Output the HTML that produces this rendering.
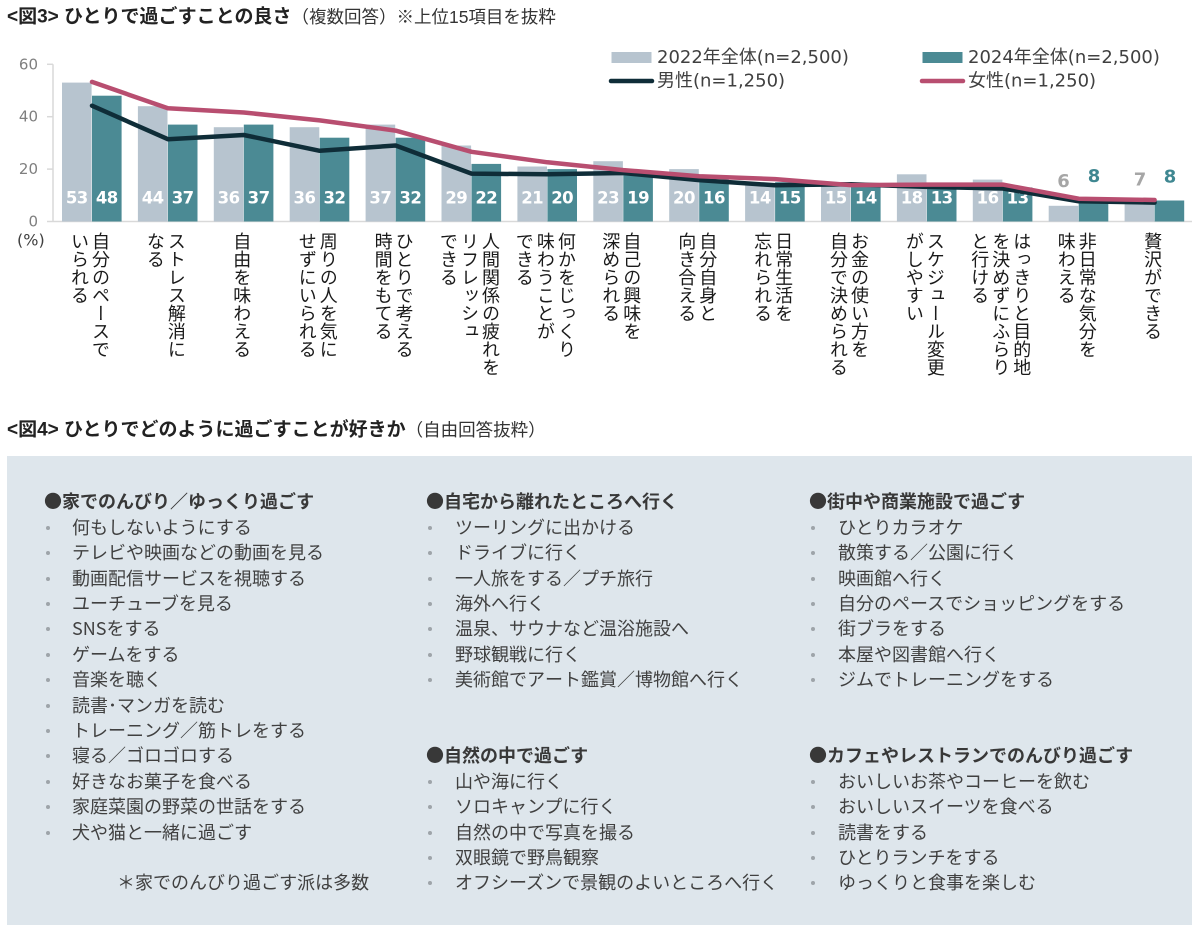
<!DOCTYPE html>
<html><head><meta charset="utf-8">
<style>
html,body{margin:0;padding:0;}
body{width:1200px;height:932px;position:relative;overflow:hidden;background:#fff;font-family:"Liberation Sans","Noto Sans CJK JP",sans-serif;}
svg{position:absolute;left:0;top:0;}
.xl{position:absolute;top:232px;writing-mode:vertical-rl;font-family:"Noto Sans CJK JP",sans-serif;font-size:18px;line-height:21px;color:#1a1a1a;transform:translateX(-50%);white-space:nowrap;}
.col{position:absolute;font-family:"Noto Sans CJK JP",sans-serif;font-size:18px;line-height:25.4px;color:#404040;white-space:nowrap;}
.h{font-weight:bold;color:#383838;margin-left:-2px;}
.it{position:relative;}
.it::before{content:"";position:absolute;left:0;top:11px;width:4px;height:4px;border-radius:50%;background:#9ea4a9;}
.c1 .it{padding-left:26px;}
.c2 .it{padding-left:27px;}
.c3 .it{padding-left:27px;}
.bl{height:25.4px;}
</style></head>
<body>
<svg width="1200" height="932" viewBox="0 0 1200 932" xmlns="http://www.w3.org/2000/svg">
  <!-- Title 1 -->
  <text x="7" y="17" dominant-baseline="central" font-family="Liberation Sans, Noto Sans CJK JP, sans-serif" font-size="19" font-weight="bold" fill="#222">&lt;図3&gt; ひとりで過ごすことの良さ<tspan font-weight="normal" font-size="17.5" fill="#333">（複数回答）※上位15項目を抜粋</tspan></text>

  <!-- Legend -->
  <rect x="611.5" y="52" width="40" height="11" fill="#b7c4cf"/>
  <text x="657" y="57.5" dominant-baseline="central" font-family="DejaVu Sans, Noto Sans CJK JP, sans-serif" font-size="18" fill="#404040">2022年全体(n=2,500)</text>
  <rect x="922.5" y="52" width="40" height="11" fill="#4b8a94"/>
  <text x="968" y="57.5" dominant-baseline="central" font-family="DejaVu Sans, Noto Sans CJK JP, sans-serif" font-size="18" fill="#404040">2024年全体(n=2,500)</text>
  <line x1="611" y1="81" x2="652" y2="81" stroke="#0f2d38" stroke-width="4.5" stroke-linecap="round"/>
  <text x="657" y="81" dominant-baseline="central" font-family="DejaVu Sans, Noto Sans CJK JP, sans-serif" font-size="18" fill="#404040">男性(n=1,250)</text>
  <line x1="922" y1="81" x2="963" y2="81" stroke="#b84e70" stroke-width="4.5" stroke-linecap="round"/>
  <text x="968" y="81" dominant-baseline="central" font-family="DejaVu Sans, Noto Sans CJK JP, sans-serif" font-size="18" fill="#404040">女性(n=1,250)</text>

  <!-- Axis -->
  <line x1="53" y1="64.3" x2="53" y2="221.5" stroke="#d9d9d9" stroke-width="1.5"/>
  <line x1="47" y1="64.3" x2="53" y2="64.3" stroke="#d9d9d9" stroke-width="1.5"/>
  <line x1="47" y1="116.7" x2="53" y2="116.7" stroke="#d9d9d9" stroke-width="1.5"/>
  <line x1="47" y1="169.1" x2="53" y2="169.1" stroke="#d9d9d9" stroke-width="1.5"/>
  <line x1="47" y1="221.5" x2="1192" y2="221.5" stroke="#d9d9d9" stroke-width="1.5"/>
  <g font-family="DejaVu Sans, sans-serif" font-size="15" fill="#7f7f7f" text-anchor="end" dominant-baseline="central">
    <text x="38" y="64.3">60</text>
    <text x="38" y="116.7">40</text>
    <text x="38" y="169.1">20</text>
    <text x="38" y="221.5">0</text>
  </g>
  <text x="17" y="240" dominant-baseline="central" font-family="DejaVu Sans, sans-serif" font-size="16" fill="#404040">(%)</text>

  <!-- Light bars (2022) -->
  <g fill="#b7c4cf">
    <rect x="62" y="82.6" width="29.6" height="138.9"/>
    <rect x="137.9" y="106.2" width="29.6" height="115.3"/>
    <rect x="213.8" y="127.2" width="29.6" height="94.3"/>
    <rect x="289.7" y="127.2" width="29.6" height="94.3"/>
    <rect x="365.6" y="124.6" width="29.6" height="96.9"/>
    <rect x="441.5" y="145.5" width="29.6" height="76"/>
    <rect x="517.4" y="166.5" width="29.6" height="55"/>
    <rect x="593.3" y="161.2" width="29.6" height="60.3"/>
    <rect x="669.2" y="169.1" width="29.6" height="52.4"/>
    <rect x="745.1" y="184.8" width="29.6" height="36.7"/>
    <rect x="821" y="182.2" width="29.6" height="39.3"/>
    <rect x="896.9" y="174.3" width="29.6" height="47.2"/>
    <rect x="972.8" y="179.6" width="29.6" height="41.9"/>
    <rect x="1048.7" y="205.8" width="29.6" height="15.7"/>
    <rect x="1124.6" y="203.2" width="29.6" height="18.3"/>
  </g>
  <!-- Dark bars (2024) -->
  <g fill="#4b8a94">
    <rect x="92" y="95.7" width="29.6" height="125.8"/>
    <rect x="167.9" y="124.6" width="29.6" height="96.9"/>
    <rect x="243.8" y="124.6" width="29.6" height="96.9"/>
    <rect x="319.7" y="137.7" width="29.6" height="83.8"/>
    <rect x="395.6" y="137.7" width="29.6" height="83.8"/>
    <rect x="471.5" y="163.9" width="29.6" height="57.6"/>
    <rect x="547.4" y="169.1" width="29.6" height="52.4"/>
    <rect x="623.3" y="171.7" width="29.6" height="49.8"/>
    <rect x="699.2" y="179.6" width="29.6" height="41.9"/>
    <rect x="775.1" y="182.2" width="29.6" height="39.3"/>
    <rect x="851" y="184.8" width="29.6" height="36.7"/>
    <rect x="926.9" y="187.4" width="29.6" height="34.1"/>
    <rect x="1002.8" y="187.4" width="29.6" height="34.1"/>
    <rect x="1078.7" y="200.5" width="29.6" height="21"/>
    <rect x="1154.6" y="200.5" width="29.6" height="21"/>
  </g>

  <!-- Value labels -->
  <g font-family="DejaVu Sans, sans-serif" font-size="16.5" font-weight="bold" fill="#ffffff" text-anchor="middle" dominant-baseline="central" letter-spacing="-0.5">
    <text x="76.8" y="198">53</text><text x="106.8" y="198">48</text>
    <text x="152.7" y="198">44</text><text x="182.7" y="198">37</text>
    <text x="228.6" y="198">36</text><text x="258.6" y="198">37</text>
    <text x="304.5" y="198">36</text><text x="334.5" y="198">32</text>
    <text x="380.4" y="198">37</text><text x="410.4" y="198">32</text>
    <text x="456.3" y="198">29</text><text x="486.3" y="198">22</text>
    <text x="532.2" y="198">21</text><text x="562.2" y="198">20</text>
    <text x="608.1" y="198">23</text><text x="638.1" y="198">19</text>
    <text x="684" y="198">20</text><text x="714" y="198">16</text>
    <text x="759.9" y="198">14</text><text x="789.9" y="198">15</text>
    <text x="835.8" y="198">15</text><text x="865.8" y="198">14</text>
    <text x="911.7" y="198">18</text><text x="941.7" y="198">13</text>
    <text x="987.6" y="198">16</text><text x="1017.6" y="198">13</text>
  </g>
  <g font-family="DejaVu Sans, sans-serif" font-size="18" font-weight="bold" text-anchor="middle" dominant-baseline="central">
    <text x="1063.5" y="181.5" fill="#a6a6a6">6</text>
    <text x="1094" y="176.5" fill="#3f8791">8</text>
    <text x="1140" y="180" fill="#a6a6a6">7</text>
    <text x="1170" y="177" fill="#3f8791">8</text>
  </g>

  <!-- Lines -->
  <polyline fill="none" stroke="#0f2d38" stroke-width="4.5" stroke-linejoin="round" stroke-linecap="round"
    points="92,105.7 167.9,139.2 243.8,135 319.7,150.8 395.6,145.5 471.5,173.6 547.4,174.3 623.3,173 699.2,180.1 775.1,185.3 851,184.3 926.9,186.9 1002.8,188.5 1078.7,201.3 1154.6,202.6"/>
  <polyline fill="none" stroke="#b84e70" stroke-width="4.5" stroke-linejoin="round" stroke-linecap="round"
    points="92,81.9 167.9,108.3 243.8,112.5 319.7,120.4 395.6,130.6 471.5,151.8 547.4,162.3 623.3,170.1 699.2,176.2 775.1,179.1 851,185.1 926.9,184.6 1002.8,184.6 1078.7,198.7 1154.6,200"/>

  <!-- Title 2 -->
  <text x="7" y="430" dominant-baseline="central" font-family="Liberation Sans, Noto Sans CJK JP, sans-serif" font-size="19" font-weight="bold" fill="#222">&lt;図4&gt; ひとりでどのように過ごすことが好きか<tspan font-weight="normal" font-size="17.5" fill="#333">（自由回答抜粋）</tspan></text>

  <!-- Panel -->
  <rect x="7" y="456" width="1185" height="469" fill="#dee6ec"/>
</svg>

<!-- X labels -->
<div class="xl" style="left:90px">自分のペースで<br>いられる</div>
<div class="xl" style="left:165.9px">ストレス解消に<br>なる</div>
<div class="xl" style="left:241.8px">自由を味わえる</div>
<div class="xl" style="left:317.7px">周りの人を気に<br>せずにいられる</div>
<div class="xl" style="left:393.6px">ひとりで考える<br>時間をもてる</div>
<div class="xl" style="left:469.5px">人間関係の疲れを<br>リフレッシュ<br>できる</div>
<div class="xl" style="left:545.4px">何かをじっくり<br>味わうことが<br>できる</div>
<div class="xl" style="left:621.3px">自己の興味を<br>深められる</div>
<div class="xl" style="left:697.2px">自分自身と<br>向き合える</div>
<div class="xl" style="left:773.1px">日常生活を<br>忘れられる</div>
<div class="xl" style="left:849px">お金の使い方を<br>自分で決められる</div>
<div class="xl" style="left:924.9px">スケジュール変更<br>がしやすい</div>
<div class="xl" style="left:1000.8px">はっきりと目的地<br>を決めずにふらり<br>と行ける</div>
<div class="xl" style="left:1076.7px">非日常な気分を<br>味わえる</div>
<div class="xl" style="left:1152.6px">贅沢ができる</div>

<!-- Panel columns -->
<div class="col c1" style="left:46px;top:489.3px">
  <div class="h">●家でのんびり／ゆっくり過ごす</div>
  <div class="it">何もしないようにする</div>
  <div class="it">テレビや映画などの動画を見る</div>
  <div class="it">動画配信サービスを視聴する</div>
  <div class="it">ユーチューブを見る</div>
  <div class="it">SNSをする</div>
  <div class="it">ゲームをする</div>
  <div class="it">音楽を聴く</div>
  <div class="it">読書･マンガを読む</div>
  <div class="it">トレーニング／筋トレをする</div>
  <div class="it">寝る／ゴロゴロする</div>
  <div class="it">好きなお菓子を食べる</div>
  <div class="it">家庭菜園の野菜の世話をする</div>
  <div class="it">犬や猫と一緒に過ごす</div>
  <div class="bl"></div>
  <div style="padding-left:71px">＊家でのんびり過ごす派は多数</div>
</div>

<div class="col c2" style="left:428px;top:489.3px">
  <div class="h">●自宅から離れたところへ行く</div>
  <div class="it">ツーリングに出かける</div>
  <div class="it">ドライブに行く</div>
  <div class="it">一人旅をする／プチ旅行</div>
  <div class="it">海外へ行く</div>
  <div class="it">温泉、サウナなど温浴施設へ</div>
  <div class="it">野球観戦に行く</div>
  <div class="it">美術館でアート鑑賞／博物館へ行く</div>
  <div class="bl"></div>
  <div class="bl"></div>
  <div class="h">●自然の中で過ごす</div>
  <div class="it">山や海に行く</div>
  <div class="it">ソロキャンプに行く</div>
  <div class="it">自然の中で写真を撮る</div>
  <div class="it">双眼鏡で野鳥観察</div>
  <div class="it">オフシーズンで景観のよいところへ行く</div>
</div>

<div class="col c3" style="left:811px;top:489.3px">
  <div class="h">●街中や商業施設で過ごす</div>
  <div class="it">ひとりカラオケ</div>
  <div class="it">散策する／公園に行く</div>
  <div class="it">映画館へ行く</div>
  <div class="it">自分のペースでショッピングをする</div>
  <div class="it">街ブラをする</div>
  <div class="it">本屋や図書館へ行く</div>
  <div class="it">ジムでトレーニングをする</div>
  <div class="bl"></div>
  <div class="bl"></div>
  <div class="h">●カフェやレストランでのんびり過ごす</div>
  <div class="it">おいしいお茶やコーヒーを飲む</div>
  <div class="it">おいしいスイーツを食べる</div>
  <div class="it">読書をする</div>
  <div class="it">ひとりランチをする</div>
  <div class="it">ゆっくりと食事を楽しむ</div>
</div>
</body></html>
